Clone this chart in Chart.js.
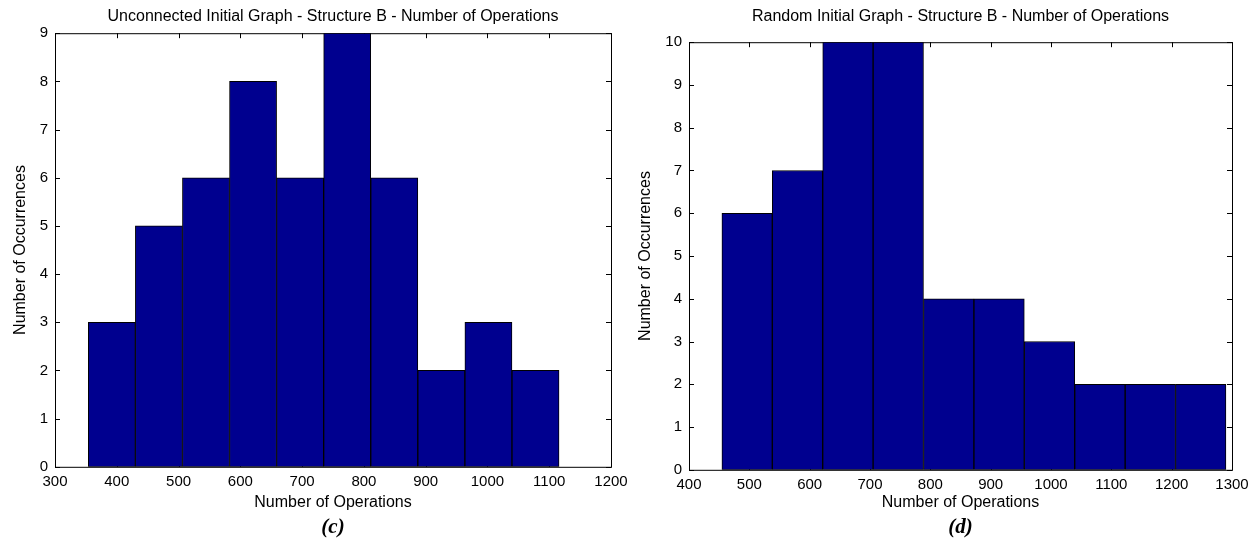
<!DOCTYPE html>
<html>
<head>
<meta charset="utf-8">
<script src="https://cdn.jsdelivr.net/npm/chart.js@4.4.1/dist/chart.umd.min.js"></script>
<style>
  body { margin: 0; background: #fff; }
  .panel { position: absolute; top: 0; width: 628px; height: 550px; }
</style>
</head>
<body>
<div class="panel" style="left:0"><canvas id="chartC" width="628" height="550"></canvas></div>
<div class="panel" style="left:628px"><canvas id="chartD" width="628" height="550"></canvas></div>
<script>
// histogram (c): bin centres and counts
const binsC = [392.0, 468.2, 544.4, 620.6, 696.8, 773.0, 849.2, 925.4, 1001.6, 1077.8];
const countsC = [3, 5, 6, 8, 6, 9, 6, 2, 3, 2];

// histogram (d): bin centres and counts
const binsD = [496.3, 579.8, 663.4, 746.9, 830.5, 914.0, 997.6, 1081.1, 1164.7, 1248.2];
const countsD = [6, 7, 10, 10, 4, 4, 3, 2, 2, 2];

const titleC = 'Unconnected Initial Graph - Structure B - Number of Operations';
const titleD = 'Random Initial Graph - Structure B - Number of Operations';
const xLabel = 'Number of Operations';
const yLabel = 'Number of Occurrences';

const SANS = "'Liberation Sans', Arial, sans-serif";
const BAR_BLUE = '#00008f';

// matlab style box around the axes with inward tick marks
const boxPlugin = {
    id: 'matlabBox',
    beforeDatasetsDraw(chart) {
        const { ctx, chartArea, scales } = chart;
        const { left, right, top, bottom } = chartArea;
        const len = 5;
        ctx.save();
        ctx.strokeStyle = '#000';
        ctx.lineWidth = 1;
        ctx.strokeRect(left + 0.5, top + 0.5, right - left, bottom - top);
        ctx.beginPath();
        scales.x.ticks.forEach(t => {
            const px = Math.round(scales.x.getPixelForValue(t.value)) + 0.5;
            ctx.moveTo(px, bottom);
            ctx.lineTo(px, bottom - len);
            ctx.moveTo(px, top);
            ctx.lineTo(px, top + len);
        });
        scales.y.ticks.forEach(t => {
            const py = Math.round(scales.y.getPixelForValue(t.value)) + 0.5;
            ctx.moveTo(left, py);
            ctx.lineTo(left + len, py);
            ctx.moveTo(right, py);
            ctx.lineTo(right - len, py);
        });
        ctx.stroke();
        ctx.restore();
    }
};

function makeHistogram(id, bins, counts, opts) {
    const ctx = document.getElementById(id).getContext('2d');
    return new Chart(ctx, {
        type: 'bar',
        data: {
            datasets: [{
                data: bins.map((b, i) => ({ x: b, y: counts[i] })),
                backgroundColor: BAR_BLUE,
                borderColor: '#000',
                borderWidth: 1,
                borderSkipped: false,
                barPercentage: 1,
                categoryPercentage: 1
            }]
        },
        options: {
            responsive: false,
            animation: false,
            layout: { padding: { left: 0, top: 0, right: opts.padRight, bottom: 0 } },
            plugins: {
                legend: { display: false },
                tooltip: { enabled: false },
                title: {
                    display: true,
                    text: opts.title,
                    fullSize: false,
                    color: '#000',
                    font: { family: SANS, size: 16, weight: 'normal' },
                    padding: { top: 7, bottom: opts.titleGap }
                },
                subtitle: {
                    display: true,
                    position: 'bottom',
                    text: opts.tag,
                    fullSize: false,
                    color: '#000',
                    font: { family: "'Liberation Serif', 'Times New Roman', serif", size: 21, style: 'italic', weight: 'bold' },
                    padding: { top: 0, bottom: 10 }
                }
            },
            scales: {
                x: {
                    type: 'linear',
                    min: opts.xMin,
                    max: opts.xMax,
                    offset: false,
                    grid: { display: false, drawTicks: false },
                    border: { display: false },
                    ticks: {
                        stepSize: 100,
                        autoSkip: false,
                        maxRotation: 0,
                        padding: 6,
                        color: '#000',
                        font: { family: SANS, size: 15 },
                        callback: v => String(v)
                    },
                    title: {
                        display: true,
                        text: xLabel,
                        color: '#000',
                        font: { family: SANS, size: 16 },
                        padding: { top: 0, bottom: 3 }
                    },
                    afterFit(scale) {
                        scale.height = opts.xHeight;
                        scale.paddingLeft = 0;
                        scale.paddingRight = 0;
                    }
                },
                y: {
                    min: 0,
                    max: opts.yMax,
                    grid: { display: false, drawTicks: false },
                    border: { display: false },
                    ticks: {
                        stepSize: 1,
                        autoSkip: false,
                        padding: 7,
                        color: '#000',
                        font: { family: SANS, size: 15 }
                    },
                    title: {
                        display: true,
                        text: yLabel,
                        color: '#000',
                        font: { family: SANS, size: 16 },
                        padding: { top: opts.yTitlePad, bottom: 0 }
                    },
                    afterFit(scale) { scale.width = opts.yWidth; }
                }
            }
        },
        plugins: [boxPlugin]
    });
}

makeHistogram('chartC', binsC, countsC, {
    title: titleC, tag: '(c)',
    xMin: 300, xMax: 1200, yMax: 9,
    padRight: 17, titleGap: 7, xHeight: 48, yWidth: 55, yTitlePad: 11
});

makeHistogram('chartD', binsD, countsD, {
    title: titleD, tag: '(d)',
    xMin: 400, xMax: 1300, yMax: 10,
    padRight: 24, titleGap: 16, xHeight: 45, yWidth: 61, yTitlePad: 8
});
</script>
</body>
</html>
